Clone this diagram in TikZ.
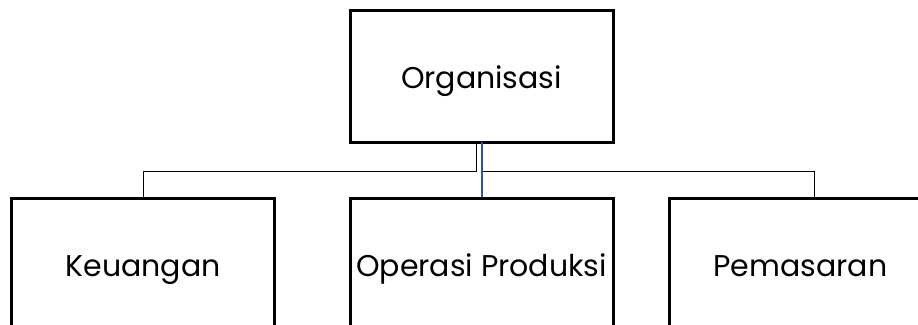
\documentclass[tikz,border=0pt]{standalone}
\usepackage{fontspec}
\setmainfont{Poppins}
\definecolor{linkblue}{RGB}{47,85,151}
\begin{document}
\begin{tikzpicture}[x=1pt,y=-1pt,
  box/.style={draw=black,line width=3pt,fill=white,minimum width=263pt,minimum height=132pt,inner sep=0pt,text height=27pt,text depth=3pt,font=\fontsize{30}{32}\selectfont},
  link/.style={draw=black,line width=1pt},
  bluelink/.style={draw=linkblue,line width=2.5pt}]
\useasboundingbox (0,0) rectangle (918,324);
\clip (0,0) rectangle (918,324);
\node[box] (org) at (481.5,76) {Organisasi};
\node[box] (keu) at (143,264) {Keuangan};
\node[box] (ops) at (481.5,264) {Operasi Produksi};
\node[box] (pem) at (800.5,264) {Pemasaran};
\coordinate (lt) at (476,142);
\coordinate (rt) at (482,142);
\coordinate (rd) at (814,197);
\draw[link] (lt) -- (476,171) -| (keu.north);
\draw[link] (rt) -- (482,171) -| (rd);
\draw[bluelink] (rt) -- (ops.north -| rt);
\end{tikzpicture}
\end{document}
